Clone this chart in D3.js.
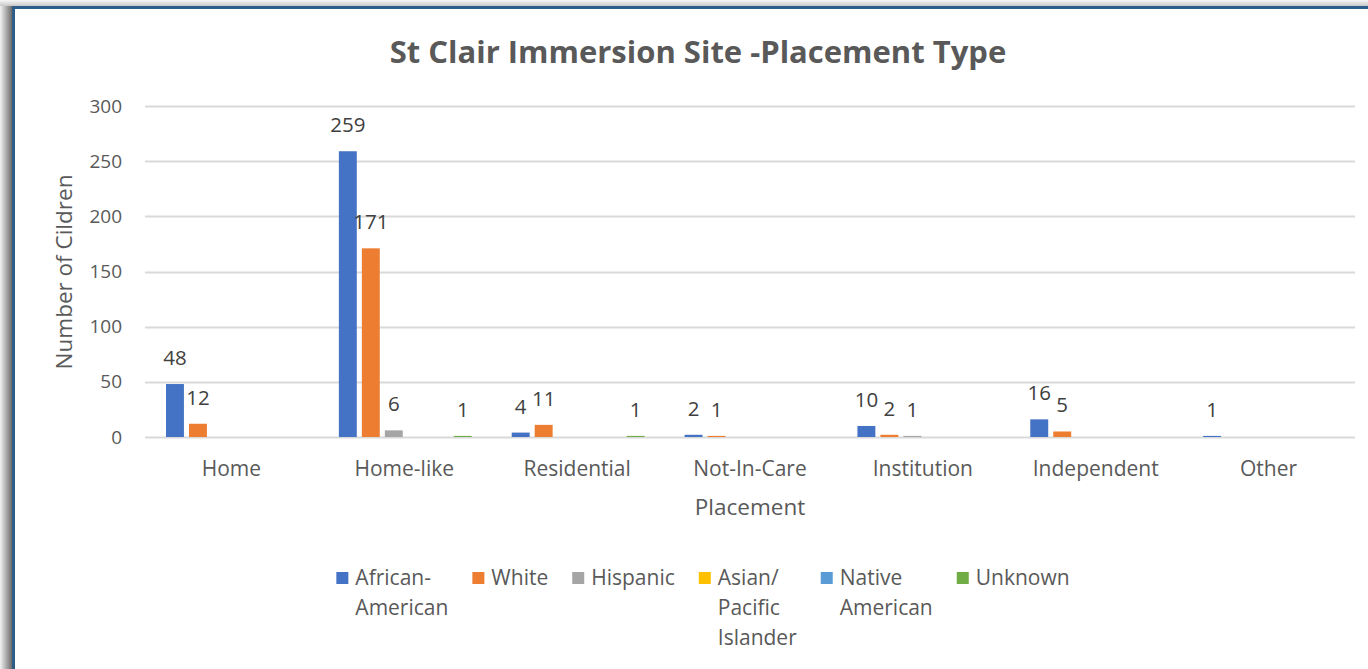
<!DOCTYPE html>
<meta charset="utf-8">
<script src="https://d3js.org/d3.v7.min.js"></script>
<style>
  body { margin: 0; background: #fff; }
  text { font-family: "Open Sans", sans-serif; fill: #595959; }
</style>
<div id="chart"></div>
<script>

// data (null = empty cell, no bar, no label)
const placements = ["Home", "Home-like", "Residential", "Not-In-Care", "Institution", "Independent", "Other"]
const seriesNames = ["African-American", "White", "Hispanic", "Asian/ Pacific Islander", "Native American", "Unknown"]
const legendLines = [["African-", "American"], ["White"], ["Hispanic"], ["Asian/", "Pacific", "Islander"], ["Native", "American"], ["Unknown"]]
const africanAmerican = [48, 259, 4, 2, 10, 16, 1]
const white = [12, 171, 11, 1, 2, 5, null]
const hispanic = [null, 6, null, null, 1, null, null]
const asianPacific = [null, null, null, null, null, null, null]
const nativeAmerican = [null, null, null, null, null, null, null]
const unknown = [null, 1, 1, null, null, null, null]
const yTicks = [0, 50, 100, 150, 200, 250, 300]
const colors = ["#4472c4", "#ed7d31", "#a5a5a5", "#ffc000", "#5b9bd5", "#70ad47"]

const values = [africanAmerican, white, hispanic, asianPacific, nativeAmerican, unknown]

const W = 1368, H = 669

const svg = d3.select("#chart").append("svg")
    .attr("width", W)
    .attr("height", H)

// frame with shadow
const defs = svg.append("defs")
const gl = defs.append("linearGradient").attr("id", "shadowLeft")
gl.append("stop").attr("offset", "0%").attr("stop-color", "#f2f2f2")
gl.append("stop").attr("offset", "100%").attr("stop-color", "#6b6b6b")
const gt = defs.append("linearGradient").attr("id", "shadowTop")
    .attr("x1", 0).attr("y1", 0).attr("x2", 0).attr("y2", 1)
gt.append("stop").attr("offset", "0%").attr("stop-color", "#f7f7f7")
gt.append("stop").attr("offset", "100%").attr("stop-color", "#c8c8c8")

svg.append("rect").attr("x", 0).attr("y", 0).attr("width", W).attr("height", 6).attr("fill", "url(#shadowTop)")
svg.append("rect").attr("x", 0).attr("y", 6).attr("width", 12).attr("height", H).attr("fill", "url(#shadowLeft)")
svg.append("rect")
    .attr("x", 13.5).attr("y", 7.5)
    .attr("width", W).attr("height", H)
    .attr("fill", "#fff")
    .attr("stroke", "#2e5d8a")
    .attr("stroke-width", 3)

// scales
const x0 = d3.scaleBand()
    .domain(placements)
    .range([145, 1355])

const x1 = d3.scaleBand()
    .domain(seriesNames)
    .range([21, x0.bandwidth() - 19])
    .paddingInner(0.22)

const y = d3.scaleLinear()
    .domain([0, 300])
    .range([437, 106])

// gridlines
svg.append("g")
  .selectAll("line")
  .data(yTicks)
  .join("line")
    .attr("x1", 145)
    .attr("x2", 1355)
    .attr("y1", d => Math.round(y(d)) + 0.5)
    .attr("y2", d => Math.round(y(d)) + 0.5)
    .attr("stroke", "#d9d9d9")
    .attr("stroke-width", 2)

// y axis labels
svg.append("g")
  .selectAll("text")
  .data(yTicks)
  .join("text")
    .attr("x", 122)
    .attr("y", d => y(d))
    .attr("dy", "0.35em")
    .attr("text-anchor", "end")
    .style("font-size", "19px")
    .text(d => d)

// x axis labels
svg.append("g")
  .selectAll("text")
  .data(placements)
  .join("text")
    .attr("x", d => x0(d) + x0.bandwidth() / 2)
    .attr("y", 476)
    .attr("text-anchor", "middle")
    .style("font-size", "21px")
    .text(d => d)

// bars
const cells = []
placements.forEach((p, i) => {
  seriesNames.forEach((s, j) => {
    const v = values[j][i]
    if (v !== null) cells.push({placement: p, series: s, value: v, color: colors[j]})
  })
})

const bars = svg.append("g")
bars.selectAll("rect")
  .data(cells)
  .join("rect")
    .attr("x", d => x0(d.placement) + x1(d.series))
    .attr("width", x1.bandwidth())
    .attr("y", d => y(d.value))
    .attr("height", d => y(0) - y(d.value))
    .attr("fill", d => d.color)

// data labels
svg.append("g")
  .selectAll("text")
  .data(cells)
  .join("text")
    .attr("x", d => x0(d.placement) + x1(d.series) + x1.bandwidth() / 2)
    .attr("y", d => y(d.value) - 19)
    .attr("text-anchor", "middle")
    .style("font-size", "20.5px")
    .style("fill", "#404040")
    .text(d => d.value)

// title
svg.append("text")
    .attr("x", 698)
    .attr("y", 63)
    .attr("text-anchor", "middle")
    .style("font-size", "31px")
    .style("font-weight", "bold")
    .text("St Clair Immersion Site -Placement Type")

// axis titles
svg.append("text")
    .attr("transform", "translate(72,272) rotate(-90)")
    .attr("text-anchor", "middle")
    .style("font-size", "22.5px")
    .text("Number of Cildren")

svg.append("text")
    .attr("x", 750)
    .attr("y", 515)
    .attr("text-anchor", "middle")
    .style("font-size", "22.5px")
    .text("Placement")

// legend
const legend = svg.append("g")
let lx = 0
seriesNames.forEach((s, j) => {
  const g = legend.append("g").attr("transform", `translate(${lx},0)`)
  g.append("rect")
    .attr("x", 0)
    .attr("y", -6)
    .attr("width", 12)
    .attr("height", 12)
    .attr("fill", colors[j])
  const t = g.append("text")
    .style("font-size", "21px")
  legendLines[j].forEach((line, k) => {
    t.append("tspan")
      .attr("x", 19)
      .attr("y", k * 30)
      .attr("dy", "0.35em")
      .text(line)
  })
  const w = d3.max(t.selectAll("tspan").nodes(), n => n.getComputedTextLength())
  lx += 19 + w + 24
})
const legendWidth = lx - 24
legend.attr("transform", `translate(${703 - legendWidth / 2},578)`)

</script>
